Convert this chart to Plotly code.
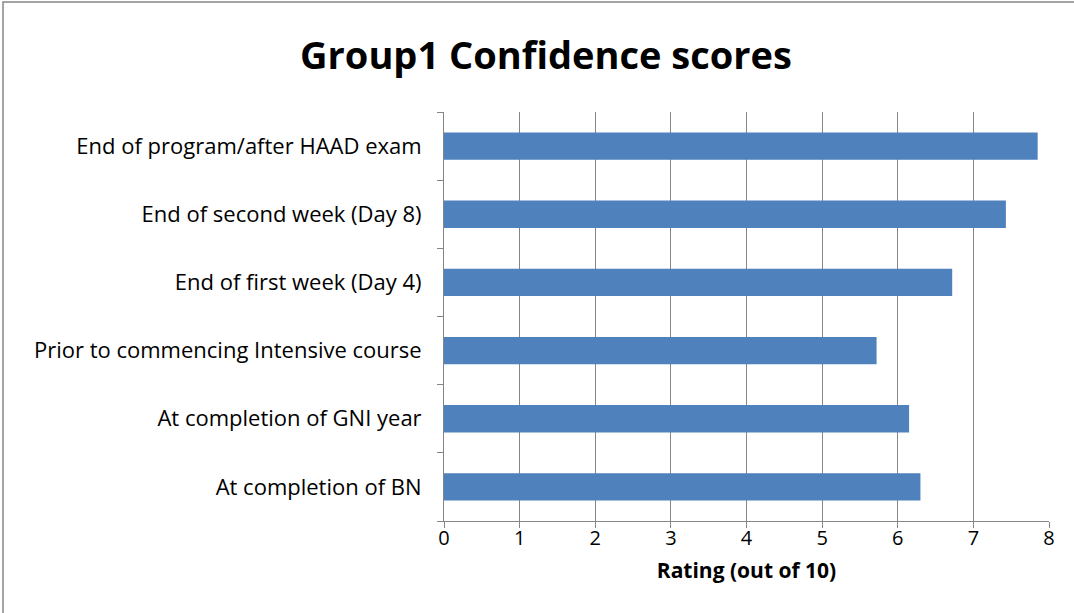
import plotly.graph_objects as go

categories = [
    "At completion of BN",
    "At completion of GNI year",
    "Prior to commencing Intensive course",
    "End of first week (Day 4)",
    "End of second week (Day 8)",
    "End of program/after HAAD exam",
]
values = [6.30, 6.15, 5.72, 6.72, 7.43, 7.85]
x_ticks = [0, 1, 2, 3, 4, 5, 6, 7, 8]

W, H = 1074, 613
L, R, T, B = 444, 25, 112, 92
pw, ph = W - L - R, H - T - B

fig = go.Figure()
fig.add_trace(go.Bar(
    y=categories, x=values, orientation="h",
    marker=dict(color="#4F81BD", line=dict(width=0)),
    width=0.4,
))

font_family = "'Open Sans', Lato, sans-serif"
fig.update_layout(
    width=W, height=H,
    margin=dict(l=L, r=R, t=T, b=B),
    paper_bgcolor="white", plot_bgcolor="white",
    showlegend=False,
    title=dict(text="<b>Group1 Confidence scores</b>", x=546 / W, xanchor="center",
               y=1 - 56 / H, yanchor="middle",
               font=dict(family=font_family, size=38, color="black")),
    xaxis=dict(
        range=[0, 8], tickvals=x_ticks, ticktext=[str(v) for v in x_ticks],
        showgrid=True, gridcolor="#868686", gridwidth=1,
        showline=True, linecolor="#868686", linewidth=1,
        ticks="outside", ticklen=6, tickcolor="#868686",
        tickfont=dict(family=font_family, size=20, color="black"),
        ticklabelstandoff=-7,
        title=dict(text="<b>Rating (out of 10)</b>", standoff=13,
                   font=dict(family=font_family, size=21, color="black")),
        zeroline=False,
    ),
    yaxis=dict(
        type="category", categoryorder="array", categoryarray=categories,
        showline=True, linecolor="#868686", linewidth=1,
        ticks="outside", ticklen=6, tickcolor="#868686", tickson="boundaries",
        tickfont=dict(family=font_family, size=22, color="black"),
        showgrid=False, ticklabelstandoff=17,
    ),
    shapes=[dict(type="rect", xref="paper", yref="paper",
                 x0=-(L - 3) / pw, x1=1 + (R + 5) / pw,
                 y0=-(B + 5) / ph, y1=1 + (T - 2) / ph,
                 line=dict(color="#868686", width=1.5), fillcolor="rgba(0,0,0,0)")],
)

fig.write_html("out.html", config={"displayModeBar": False},
               post_script="document.body.style.margin='0';")
